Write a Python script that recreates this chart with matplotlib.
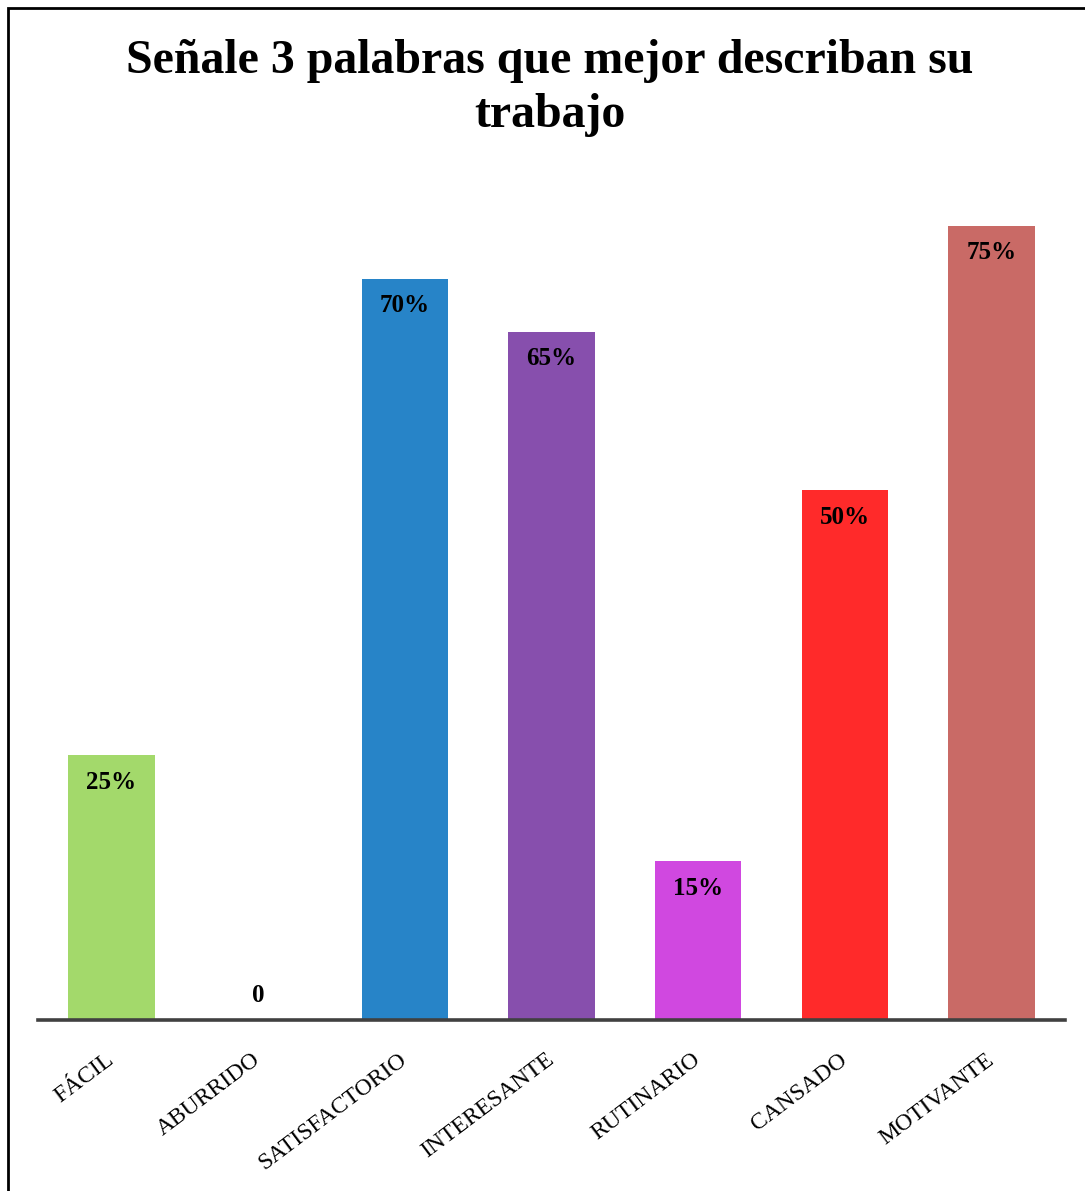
import matplotlib.pyplot as plt
from matplotlib.patches import Rectangle

categorias = ['FÁCIL', 'ABURRIDO', 'SATISFACTORIO', 'INTERESANTE', 'RUTINARIO', 'CANSADO', 'MOTIVANTE']
valores = [25, 0, 70, 65, 15, 50, 75]
etiquetas = ['25%', '0', '70%', '65%', '15%', '50%', '75%']
colores = ['#A3D96B', '#FFFFFF', '#2784C8', '#874FAD', '#D048E0', '#FF2A2A', '#C96A66']

plt.rcParams['font.family'] = ['Liberation Serif', 'DejaVu Serif']

W, H = 1085, 1191
fig = plt.figure(figsize=(W / 100, H / 100), dpi=100)

# borde exterior
fig.patches.append(Rectangle((8 / W, -0.01), 1.1, 1 - 8 / H + 0.01, transform=fig.transFigure,
                             fill=False, edgecolor='black', linewidth=2))

# ejes: base en y=1020 px, 10.59 px por unidad
y0 = 1020
ymax = 80
top = y0 - ymax * 10.59
ax = fig.add_axes([38 / W, 1 - y0 / H, (1065 - 38) / W, (y0 - top) / H])
x = range(len(categorias))
ax.bar(x, valores, width=0.59, color=colores, edgecolor='none')
ax.set_xlim(-0.5, len(categorias) - 0.5)
ax.set_ylim(0, ymax)

for i, (v, t) in enumerate(zip(valores, etiquetas)):
    if v > 0:
        ax.annotate(t, (i, v), xytext=(0, -27), textcoords='offset pixels',
                    ha='center', va='center', fontsize=18, fontweight='bold')
    else:
        ax.annotate(t, (i, v), xytext=(0, 24), textcoords='offset pixels',
                    ha='center', va='center', fontsize=18, fontweight='bold')

for s in ['top', 'right', 'left']:
    ax.spines[s].set_visible(False)
ax.spines['bottom'].set_color('#404040')
ax.spines['bottom'].set_linewidth(2.6)
ax.set_yticks([])
ax.set_xticks(list(x))
ax.set_xticklabels(categorias, rotation=37, ha='right', va='center',
                   rotation_mode='anchor', fontsize=17)
ax.tick_params(axis='x', length=0, pad=27)

fig.text(0.507, 1 - 88 / H, 'Señale 3 palabras que mejor describan su\ntrabajo',
         ha='center', va='center', fontsize=34.5, fontweight='bold', linespacing=1.28)

fig.savefig('out.png', dpi=100)
